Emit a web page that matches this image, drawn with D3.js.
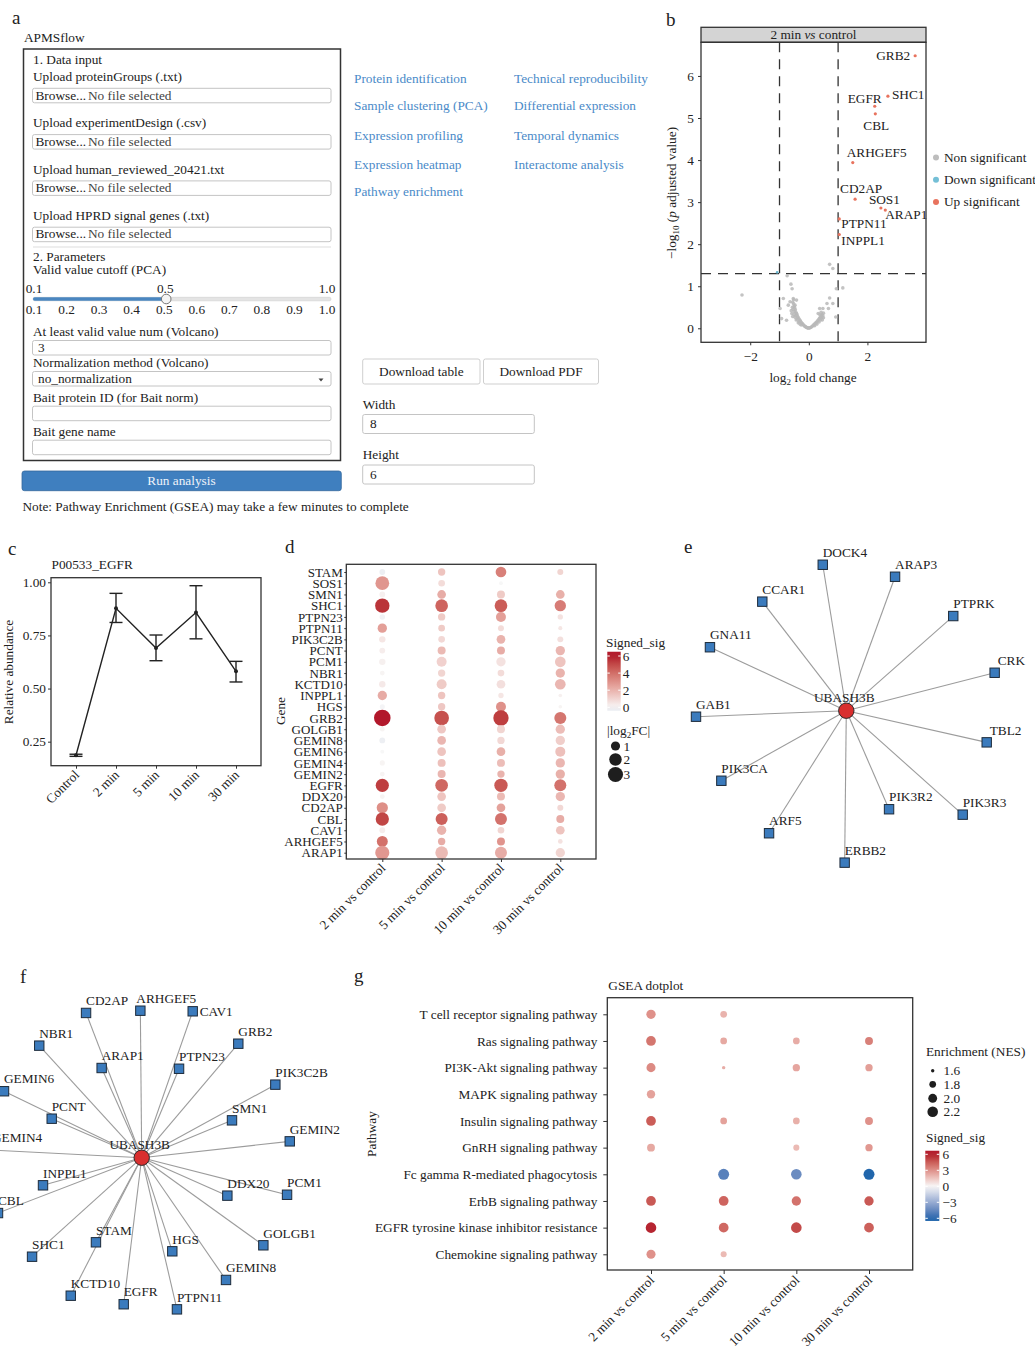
<!DOCTYPE html>
<html>
<head>
<meta charset="utf-8">
<script src="https://cdn.jsdelivr.net/npm/d3@7"></script>
<style>
  body { margin: 0; background: #fff; }
</style>
</head>
<body>
<div id="fig"></div>
<script>
// ---------- panel a : app form ----------
const uploadLabels = [
  "Upload proteinGroups (.txt)",
  "Upload experimentDesign (.csv)",
  "Upload human_reviewed_20421.txt",
  "Upload HPRD signal genes (.txt)"
];
const sliderTicks = [0.1, 0.2, 0.3, 0.4, 0.5, 0.6, 0.7, 0.8, 0.9, 1.0];
const sliderValue = 0.5;
const paramLabels = [
  "At least valid value num (Volcano)",
  "Normalization method (Volcano)",
  "Bait protein ID (for Bait norm)",
  "Bait gene name"
];
const paramValues = ["3", "no_normalization", "", ""];
const navLeft = ["Protein identification", "Sample clustering (PCA)", "Expression profiling", "Expression heatmap", "Pathway enrichment"];
const navRight = ["Technical reproducibility", "Differential expression", "Temporal dynamics", "Interactome analysis"];
const downloadButtons = ["Download table", "Download PDF"];
const sizeLabels = ["Width", "Height"];
const sizeValues = ["8", "6"];

// ---------- panel b : volcano ----------
const sigGenes = ["GRB2", "SHC1", "EGFR", "CBL", "ARHGEF5", "CD2AP", "SOS1", "ARAP1", "PTPN11", "INPPL1"];
const sigFC    = [3.63, 2.70, 2.25, 2.27, 1.50, 1.58, 2.46, 2.61, 1.04, 1.04];
const sigP     = [6.48, 5.52, 5.28, 5.10, 3.94, 3.07, 2.86, 2.81, 2.60, 2.23];
const downPoints = [[-1.08, 1.33]];
const nonSigPoints = [
  [0.71,1.52],[0.82,1.42],[-0.74,1.25],[-0.61,1.05],[-0.57,0.94],[-2.28,0.79],[1.16,0.96],[0.94,0.94],
  [0.71,0.72],[0.62,0.59],[0.82,0.59],[0.67,0.47],[0.92,0.27],[-0.87,0.71],[-0.98,0.47],[-0.93,0.23],
  [-0.76,0.19],[-0.70,0.55],[-0.64,0.63],[-0.53,0.71],[-0.42,0.67],[-0.47,0.55],[0.37,0.47],[0.48,0.47],[0.32,0.35],
  [-0.55,0.62],[-0.52,0.58],[-0.50,0.52],[-0.48,0.48],[-0.46,0.44],[-0.50,0.40],[-0.44,0.38],[-0.42,0.35],
  [-0.40,0.32],[-0.45,0.30],[-0.38,0.28],[-0.36,0.25],[-0.40,0.22],[-0.33,0.22],[-0.30,0.19],[-0.28,0.16],
  [-0.34,0.16],[-0.25,0.13],[-0.22,0.11],[-0.20,0.09],[-0.26,0.08],[-0.17,0.07],[-0.14,0.05],[-0.12,0.04],
  [-0.10,0.03],[-0.07,0.02],[-0.05,0.01],[-0.03,0.01],[0.00,0.00],[-0.56,0.50],[-0.54,0.45],[-0.58,0.35],
  [-0.50,0.33],[-0.47,0.26],[-0.43,0.20],[-0.36,0.13],[-0.30,0.10],[-0.55,0.28],[-0.60,0.42],[-0.52,0.68],
  [0.03,0.01],[0.06,0.02],[0.09,0.03],[0.12,0.05],[0.15,0.07],[0.18,0.09],[0.21,0.11],[0.24,0.13],
  [0.27,0.15],[0.30,0.18],[0.33,0.20],[0.36,0.23],[0.39,0.26],[0.42,0.30],[0.45,0.33],[0.40,0.20],
  [0.44,0.25],[0.48,0.30],[0.50,0.36],[0.35,0.15],[0.28,0.10],[0.20,0.06],[0.46,0.20],[0.50,0.25],
  [0.38,0.32],[0.42,0.38]
];
const volcanoLegend = ["Non significant", "Down significant", "Up significant"];

// ---------- panel c : EGFR profile ----------
const timePoints = ["Control", "2 min", "5 min", "10 min", "30 min"];
const egfrMean = [0.186, 0.878, 0.691, 0.858, 0.581];
const egfrLow  = [0.181, 0.811, 0.631, 0.734, 0.531];
const egfrHigh = [0.191, 0.948, 0.752, 0.984, 0.628];

// ---------- panel d : gene dot plot ----------
const dotGenes = ["STAM","SOS1","SMN1","SHC1","PTPN23","PTPN11","PIK3C2B","PCNT","PCM1","NBR1","KCTD10","INPPL1","HGS",
  "GRB2","GOLGB1","GEMIN8","GEMIN6","GEMIN4","GEMIN2","EGFR","DDX20","CD2AP","CBL","CAV1","ARHGEF5","ARAP1"];
const contrasts = ["2 min vs control", "5 min vs control", "10 min vs control", "30 min vs control"];
const fc2  = [0.30,2.46,0.30,2.70,0.25,1.04,0.40,0.30,0.40,0.15,0.40,1.04,0.20,3.63,0.15,0.30,0.05,0.20,0.15,2.25,0.15,1.58,2.27,0.30,1.50,2.61];
const fc5  = [0.58,0.45,0.88,2.06,0.58,0.45,0.45,0.72,1.22,0.58,1.22,0.58,0.58,2.82,0.88,0.88,0.88,0.72,0.72,2.06,0.88,0.88,1.83,1.04,0.58,2.06];
const fc10 = [1.41,0.04,0.72,2.06,1.22,0.33,0.88,0.72,1.04,0.45,0.88,0.23,1.22,3.10,0.72,0.58,0.88,0.72,0.58,2.30,0.72,0.88,1.83,0.45,0.72,1.83];
const fc30 = [0.33,null,0.88,1.62,0.23,0.06,0.33,1.04,1.41,1.04,1.41,0.02,0.02,1.83,1.04,1.04,1.22,1.04,1.04,1.83,1.04,0.33,0.72,0.88,0.14,1.04];
const sig2  = [-0.3,2.86,0.2,5.52,-0.2,2.60,0.5,0.3,0.2,0.1,0.4,2.23,-0.1,6.48,0.1,-0.3,0.0,0.1,0.1,5.28,0.1,3.07,5.10,0.3,3.94,2.81];
const sig5  = [1.5,0.8,2.2,4.3,1.3,1.3,0.9,1.8,1.1,1.0,1.3,1.5,1.4,4.8,1.4,1.9,1.5,1.6,1.9,4.2,1.5,1.3,4.4,2.0,2.2,1.8];
const sig10 = [3.5,0.0,1.3,4.5,2.6,0.8,2.0,2.2,0.6,0.8,0.7,0.5,3.0,5.3,1.0,0.9,2.1,1.7,2.0,4.6,1.8,2.5,3.9,1.0,2.9,2.2];
const sig30 = [1.0,null,2.1,3.6,0.6,0.5,0.7,1.9,1.5,2.0,1.9,0.2,0.1,3.8,1.7,1.2,1.6,1.9,2.1,3.9,1.9,0.9,2.2,1.5,0.6,1.0];
const dotFC = [fc2, fc5, fc10, fc30];
const dotSig = [sig2, sig5, sig10, sig30];
const fcLegend = [1, 2, 3];
const sigLegendD = [0, 2, 4, 6];

// ---------- panels e / f : interaction networks (layout units, hub at 0,0) ----------
const hubName = "UBASH3B";
const netENodes = ["DOCK4","ARAP3","CCAR1","PTPRK","GNA11","CRK","GAB1","TBL2","PIK3CA","PIK3R2","PIK3R3","ARF5","ERBB2"];
const netEX = [-0.157,0.325,-0.560,0.713,-0.909,0.989,-1.002,0.936,-0.833,0.285,0.776,-0.515,-0.011];
const netEY = [-0.973,-0.893,-0.727,-0.631,-0.423,-0.253,0.040,0.211,0.467,0.657,0.693,0.817,1.013];
const netFNodes = ["CD2AP","ARHGEF5","CAV1","NBR1","GRB2","ARAP1","PTPN23","GEMIN6","PIK3C2B","PCNT","SMN1","GEMIN4","GEMIN2",
  "INPPL1","CBL","DDX20","PCM1","SHC1","STAM","HGS","GOLGB1","GEMIN8","KCTD10","EGFR","PTPN11"];
const netFX = [-0.371,-0.009,0.340,-0.683,0.644,-0.267,0.249,-0.918,0.891,-0.600,0.602,-0.998,0.987,
  -0.658,-0.958,0.571,0.969,-0.731,-0.305,0.204,0.811,0.562,-0.473,-0.120,0.235];
const netFY = [-0.965,-0.980,-0.976,-0.747,-0.760,-0.598,-0.593,-0.443,-0.487,-0.260,-0.249,-0.051,-0.109,
  0.184,0.369,0.253,0.247,0.660,0.564,0.624,0.584,0.815,0.920,0.977,1.011];

// ---------- panel g : GSEA dot plot ----------
const pathways = ["T cell receptor signaling pathway","Ras signaling pathway","PI3K-Akt signaling pathway","MAPK signaling pathway",
  "Insulin signaling pathway","GnRH signaling pathway","Fc gamma R-mediated phagocytosis","ErbB signaling pathway",
  "EGFR tyrosine kinase inhibitor resistance","Chemokine signaling pathway"];
const nes2  = [2.05,2.10,2.02,1.95,2.10,1.90,null,2.10,2.20,2.02];
const nes5  = [1.80,1.80,1.60,null,1.80,null,2.25,2.10,2.10,1.75];
const nes10 = [null,1.80,1.85,null,1.80,1.75,2.20,2.05,2.20,null];
const nes30 = [null,1.90,1.85,null,1.90,1.85,2.25,2.05,2.10,null];
const gsig2  = [3.0,3.8,3.2,2.5,4.5,2.3,null,4.6,5.8,3.0];
const gsig5  = [2.0,2.3,2.2,null,2.5,null,-4.8,4.3,4.2,1.8];
const gsig10 = [null,2.2,2.4,null,2.1,1.8,-4.3,3.9,5.0,null];
const gsig30 = [null,3.5,2.6,null,3.0,2.8,-6.0,4.6,4.4,null];
const gseaNES = [nes2, nes5, nes10, nes30];
const gseaSig = [gsig2, gsig5, gsig10, gsig30];
const nesLegend = [1.6, 1.8, 2.0, 2.2];
const sigLegendG = [6, 3, 0, -3, -6];

// =====================================================================
const W = 1035, H = 1346;
const FONT = '"Liberation Serif", "Times New Roman", serif';
const INK = "#222";
const FS = 13.3;

const svg = d3.select("#fig").append("svg")
  .attr("width", W).attr("height", H)
  .style("font-family", FONT)
  .style("background", "#fff");

function addText(g, { x, y, text, size = FS, fill = INK, anchor = "start", style = "normal", transform = null }) {
  const t = g.append("text")
    .attr("x", x).attr("y", y)
    .attr("font-size", size)
    .attr("fill", fill)
    .attr("text-anchor", anchor)
    .attr("font-style", style)
    .style("font-family", FONT)
    .text(text);
  if (transform) t.attr("transform", transform);
  return t;
}

function styleAxis(sel) {
  sel.attr("font-size", null).attr("font-family", null);
  sel.select(".domain").remove();
  sel.selectAll(".tick line").attr("stroke", "#333").attr("stroke-width", 1);
  sel.selectAll(".tick text").attr("fill", INK).style("font-family", FONT).style("font-size", FS + "px");
}

function frame(g, x0, y0, x1, y1) {
  g.append("rect").attr("x", x0).attr("y", y0).attr("width", x1 - x0).attr("height", y1 - y0)
    .attr("fill", "none").attr("stroke", "#333").attr("stroke-width", 1.3);
}

const sigColor = d3.scaleLinear().domain([-6, 0, 6])
  .range(["#2166ac", "#f7f7f7", "#b2182b"])
  .interpolate(d3.interpolateLab).clamp(true);

// panel letters
[["a", 12, 24], ["b", 666, 26], ["c", 8, 555], ["d", 285, 553], ["e", 684, 553], ["f", 20, 983], ["g", 354, 982]]
  .forEach(([l, x, y]) => addText(svg, { x, y, text: l, size: 19 }));

// ===================== panel a =====================
(function () {
  const g = svg.append("g");
  const boxL = 32.5, boxW = 298.5;

  function inputBox(y, h = 14.5, x = boxL, w = boxW) {
    g.append("rect").attr("x", x).attr("y", y).attr("width", w).attr("height", h)
      .attr("rx", 2).attr("fill", "#fff").attr("stroke", "#c4c4c4").attr("stroke-width", 1);
  }

  addText(g, { x: 24, y: 41.5, text: "APMSflow" });
  g.append("rect").attr("x", 23.5).attr("y", 49).attr("width", 317).attr("height", 411.5)
    .attr("fill", "none").attr("stroke", "#333").attr("stroke-width", 1.5);

  addText(g, { x: 33, y: 63.5, text: "1. Data input" });
  uploadLabels.forEach((lab, i) => {
    const y0 = 81 + i * 46.3;
    addText(g, { x: 33, y: y0, text: lab });
    inputBox(y0 + 7.3);
    addText(g, { x: 35.5, y: y0 + 18.5, text: "Browse..." });
    addText(g, { x: 88, y: y0 + 18.5, text: "No file selected", fill: "#444" });
  });
  g.append("line").attr("x1", 33).attr("x2", 331).attr("y1", 247).attr("y2", 247)
    .attr("stroke", "#ddd").attr("stroke-width", 1);

  addText(g, { x: 33, y: 260.5, text: "2. Parameters" });
  addText(g, { x: 33, y: 274, text: "Valid value cutoff (PCA)" });

  const xs = d3.scaleLinear().domain([0.1, 1.0]).range([34, 327]);
  addText(g, { x: xs(0.1), y: 293, text: "0.1", anchor: "middle" });
  addText(g, { x: xs(sliderValue) + 1, y: 293, text: "0.5", anchor: "middle" });
  addText(g, { x: xs(1.0), y: 293, text: "1.0", anchor: "middle" });
  g.append("rect").attr("x", 33).attr("y", 297.3).attr("width", 298).attr("height", 3.5)
    .attr("rx", 1.7).attr("fill", "#e4e4e4").attr("stroke", "#cfcfcf").attr("stroke-width", 0.6);
  g.append("rect").attr("x", 33).attr("y", 297.3).attr("width", xs(sliderValue) + 2 - 33).attr("height", 3.5)
    .attr("rx", 1.7).attr("fill", "#4a86c0");
  g.append("circle").attr("cx", xs(sliderValue) + 2).attr("cy", 299).attr("r", 4.8)
    .attr("fill", "#f4f4f4").attr("stroke", "#777").attr("stroke-width", 1);
  sliderTicks.forEach(v => addText(g, { x: xs(v), y: 314, text: v.toFixed(1), anchor: "middle" }));

  const paramBase = [336, 367, 401.7, 435.7];
  paramLabels.forEach((lab, i) => {
    const y0 = paramBase[i];
    addText(g, { x: 33, y: y0, text: lab });
    inputBox(y0 + 4.5);
    if (paramValues[i]) addText(g, { x: 38, y: y0 + 15.5, text: paramValues[i] });
  });
  // select arrow
  g.append("path").attr("d", "M318.5,378.5 L323.5,378.5 L321,381.5 Z").attr("fill", "#444");

  // run button
  g.append("rect").attr("x", 22).attr("y", 471).attr("width", 319.3).attr("height", 19.7)
    .attr("rx", 2.5).attr("fill", "#3f7fbf").attr("stroke", "#35689c").attr("stroke-width", 0.8);
  addText(g, { x: 181.5, y: 485, text: "Run analysis", anchor: "middle", fill: "#eef3fa" });
  addText(g, { x: 22.5, y: 511, text: "Note: Pathway Enrichment (GSEA) may take a few minutes to complete" });

  // navigation links
  const rowY = [82.7, 110, 140, 169, 196];
  navLeft.forEach((t, i) => addText(g, { x: 354, y: rowY[i], text: t, fill: "#4a8ac8" }));
  navRight.forEach((t, i) => addText(g, { x: 514, y: rowY[i], text: t, fill: "#4a8ac8" }));

  // download buttons
  const bx = [362.7, 483.5], bw = [117.3, 115];
  downloadButtons.forEach((t, i) => {
    g.append("rect").attr("x", bx[i]).attr("y", 359).attr("width", bw[i]).attr("height", 25)
      .attr("rx", 2).attr("fill", "#fff").attr("stroke", "#cfcfcf").attr("stroke-width", 1);
    addText(g, { x: bx[i] + bw[i] / 2, y: 375.5, text: t, anchor: "middle" });
  });
  sizeLabels.forEach((t, i) => {
    const y0 = 408.5 + i * 50.5;
    addText(g, { x: 362.7, y: y0, text: t });
    inputBox(y0 + 6, 19, 362.7, 171.6);
    addText(g, { x: 370, y: y0 + 19.5, text: sizeValues[i] });
  });
})();

// ===================== panel b : volcano =====================
(function () {
  const g = svg.append("g");
  const x0 = 701, x1 = 926, y0 = 42.3, y1 = 342.3;
  const x = d3.scaleLinear().domain([-3.68, 4.0]).range([x0, x1]);
  const y = d3.scaleLinear().domain([-0.333, 6.80]).range([y1, y0]);

  // strip
  g.append("rect").attr("x", x0).attr("y", 27.3).attr("width", x1 - x0).attr("height", 15)
    .attr("fill", "#d4d4d4").attr("stroke", "#333").attr("stroke-width", 1.3);
  const st = addText(g, { x: (x0 + x1) / 2, y: 39, text: "", anchor: "middle" });
  st.append("tspan").text("2 min ");
  st.append("tspan").attr("font-style", "italic").text("vs");
  st.append("tspan").text(" control");

  // threshold lines
  const dash = "10,7";
  [-1, 1].forEach(v => g.append("line").attr("x1", x(v)).attr("x2", x(v)).attr("y1", y0).attr("y2", y1)
    .attr("stroke", "#333").attr("stroke-width", 1.3).attr("stroke-dasharray", dash));
  g.append("line").attr("x1", x0).attr("x2", x1).attr("y1", y(-Math.log10(0.05))).attr("y2", y(-Math.log10(0.05)))
    .attr("stroke", "#333").attr("stroke-width", 1.3).attr("stroke-dasharray", dash);

  g.selectAll(".ns").data(nonSigPoints).join("circle")
    .attr("cx", d => x(d[0])).attr("cy", d => y(d[1])).attr("r", 1.8)
    .attr("fill", "#b8b8b8").attr("fill-opacity", 0.85);
  g.selectAll(".dn").data(downPoints).join("circle")
    .attr("cx", d => x(d[0])).attr("cy", d => y(d[1])).attr("r", 1.3).attr("fill", "#6bb6cf");
  g.selectAll(".up").data(sigGenes).join("circle")
    .attr("cx", (d, i) => x(sigFC[i])).attr("cy", (d, i) => y(sigP[i])).attr("r", 1.6).attr("fill", "#e8735e");

  // label placement (pixel nudges from each point)
  const nudge = {
    GRB2: [-5, 4, "end"], SHC1: [4, 3, "start"], EGFR: [7, -3.6, "end"], CBL: [-12, 16, "start"],
    ARHGEF5: [-6, -6, "start"], CD2AP: [-15, -6, "start"], SOS1: [-12, -4, "start"], ARAP1: [0, 9, "start"],
    PTPN11: [2, 9, "start"], INPPL1: [2, 10, "start"]
  };
  sigGenes.forEach((n, i) => {
    const [dx, dy, a] = nudge[n];
    addText(g, { x: x(sigFC[i]) + dx, y: y(sigP[i]) + dy, text: n, anchor: a });
  });

  frame(g, x0, y0, x1, y1);

  const ay = g.append("g").attr("transform", `translate(${x0},0)`)
    .call(d3.axisLeft(y).tickValues(d3.range(0, 7)).tickSize(3).tickPadding(4).tickFormat(d3.format("d")));
  styleAxis(ay);
  const ax = g.append("g").attr("transform", `translate(0,${y1})`)
    .call(d3.axisBottom(x).tickValues([-2, 0, 2]).tickSize(3).tickPadding(6).tickFormat(d => d < 0 ? "\u2212" + Math.abs(d) : d));
  styleAxis(ax);

  const xl = addText(g, { x: 813, y: 382, text: "", anchor: "middle" });
  xl.append("tspan").text("log");
  xl.append("tspan").attr("font-size", 9).attr("dy", 3).text("2");
  xl.append("tspan").attr("dy", -3).text(" fold change");

  const yl = addText(g, { x: 0, y: 0, text: "", anchor: "middle", transform: "translate(676,193) rotate(-90)" });
  yl.append("tspan").text("\u2212log");
  yl.append("tspan").attr("font-size", 9).attr("dy", 3).text("10");
  yl.append("tspan").attr("dy", -3).text(" (");
  yl.append("tspan").attr("font-style", "italic").text("p");
  yl.append("tspan").text(" adjusted value)");

  const legCol = ["#bdbdbd", "#74bfd6", "#e8735e"];
  volcanoLegend.forEach((t, i) => {
    const cy = 157.5 + i * 22.2;
    g.append("circle").attr("cx", 936).attr("cy", cy).attr("r", 3).attr("fill", legCol[i]);
    addText(g, { x: 944, y: cy + 4.2, text: t });
  });
})();

// ===================== panel c : line plot =====================
(function () {
  const g = svg.append("g");
  const x0 = 51, x1 = 261, y0 = 577.7, y1 = 765.7;
  const x = d3.scalePoint().domain(timePoints).range([76, 236]);
  const y = d3.scaleLinear().domain([0.137, 1.0217]).range([y1, y0]);

  addText(g, { x: 51.5, y: 569.3, text: "P00533_EGFR" });

  const line = d3.line().x((d, i) => x(timePoints[i])).y(d => y(d));
  g.append("path").attr("d", line(egfrMean)).attr("fill", "none").attr("stroke", INK).attr("stroke-width", 1.4);

  timePoints.forEach((t, i) => {
    const cx = x(t);
    g.append("line").attr("x1", cx).attr("x2", cx).attr("y1", y(egfrLow[i])).attr("y2", y(egfrHigh[i]))
      .attr("stroke", INK).attr("stroke-width", 1.4);
    [egfrLow[i], egfrHigh[i]].forEach(v => g.append("line")
      .attr("x1", cx - 6.5).attr("x2", cx + 6.5).attr("y1", y(v)).attr("y2", y(v))
      .attr("stroke", INK).attr("stroke-width", 1.4));
    g.append("circle").attr("cx", cx).attr("cy", y(egfrMean[i])).attr("r", 2).attr("fill", INK);
  });

  frame(g, x0, y0, x1, y1);
  const ay = g.append("g").attr("transform", `translate(${x0},0)`)
    .call(d3.axisLeft(y).tickValues([0.25, 0.5, 0.75, 1.0]).tickSize(3).tickPadding(2).tickFormat(d3.format(".2f")));
  styleAxis(ay);
  const ax = g.append("g").attr("transform", `translate(0,${y1})`)
    .call(d3.axisBottom(x).tickSize(3).tickFormat(""));
  styleAxis(ax);
  timePoints.forEach(t => addText(g, { x: 0, y: 0, text: t, anchor: "end",
    transform: `translate(${x(t) + 4},${y1 + 10}) rotate(-45)` }));

  addText(g, { x: 0, y: 0, text: "Relative abundance", anchor: "middle", transform: "translate(12.5,672) rotate(-90)" });
})();

// ===================== panel d : dot plot =====================
(function () {
  const g = svg.append("g");
  const x0 = 346.3, x1 = 596, y0 = 564.3, y1 = 859;
  const x = d3.scalePoint().domain(contrasts).range([382.3, 560.3]);
  const y = d3.scalePoint().domain(dotGenes).range([572, 852.7]);
  const area = d3.scaleLinear().domain([0, 3.7]).range([3, 69.6]);
  const r = v => Math.sqrt(area(v));

  contrasts.forEach((c, j) => {
    dotGenes.forEach((gene, i) => {
      const v = dotFC[j][i];
      if (v === null) return;
      g.append("circle").attr("cx", x(c)).attr("cy", y(gene)).attr("r", r(v))
        .attr("fill", sigColor(dotSig[j][i]));
    });
  });

  frame(g, x0, y0, x1, y1);
  const ay = g.append("g").attr("transform", `translate(${x0},0)`)
    .call(d3.axisLeft(y).tickSize(2).tickPadding(1.5));
  styleAxis(ay);
  ay.selectAll(".tick text").style("font-size", "13px");
  const ax = g.append("g").attr("transform", `translate(0,${y1})`)
    .call(d3.axisBottom(x).tickSize(3).tickFormat(""));
  styleAxis(ax);
  contrasts.forEach(c => addText(g, { x: 0, y: 0, text: c, anchor: "end",
    transform: `translate(${x(c) + 4},${y1 + 10}) rotate(-45)` }));
  addText(g, { x: 0, y: 0, text: "Gene", anchor: "middle", transform: "translate(285,711) rotate(-90)" });

  // legends
  addText(g, { x: 606, y: 646.7, text: "Signed_sig" });
  const ly = d3.scaleLinear().domain([0, 6]).range([707.3, 656]);
  const grad = svg.append("defs").append("linearGradient").attr("id", "gradD")
    .attr("x1", 0).attr("y1", 1).attr("x2", 0).attr("y2", 0);
  const lo = -0.4, hi = 6.5;
  d3.range(0, 11).forEach(k => {
    const v = lo + (hi - lo) * k / 10;
    grad.append("stop").attr("offset", k / 10).attr("stop-color", sigColor(v));
  });
  g.append("rect").attr("x", 607.3).attr("y", ly(hi)).attr("width", 13.4).attr("height", ly(lo) - ly(hi))
    .attr("fill", "url(#gradD)");
  sigLegendD.forEach(v => {
    [[607.3, 609.8], [618.2, 620.7]].forEach(([a, b]) => g.append("line")
      .attr("x1", a).attr("x2", b).attr("y1", ly(v)).attr("y2", ly(v)).attr("stroke", "#fff").attr("stroke-width", 1));
    addText(g, { x: 622.7, y: ly(v) + 4.5, text: String(v) });
  });

  const fl = addText(g, { x: 607, y: 735, text: "" });
  fl.append("tspan").text("|log");
  fl.append("tspan").attr("font-size", 9).attr("dy", 3).text("2");
  fl.append("tspan").attr("dy", -3).text("FC|");
  const cyL = [746, 759.5, 774.5];
  fcLegend.forEach((v, i) => {
    g.append("circle").attr("cx", 615.5).attr("cy", cyL[i]).attr("r", r(v)).attr("fill", "#1e1e1e");
    addText(g, { x: 623.5, y: cyL[i] + 4.5, text: String(v) });
  });
})();

// ===================== panels e, f : networks =====================
function drawNetwork(cx, cy, R, names, lx, ly, special) {
  const g = svg.append("g");
  const x = d3.scaleLinear().domain([-1, 1]).range([cx - R, cx + R]);
  const y = d3.scaleLinear().domain([-1, 1]).range([cy - R, cy + R]);
  names.forEach((n, i) => g.append("line")
    .attr("x1", x(0)).attr("y1", y(0)).attr("x2", x(lx[i])).attr("y2", y(ly[i]))
    .attr("stroke", "#9c9c9c").attr("stroke-width", 1.1));
  names.forEach((n, i) => {
    g.append("rect").attr("x", x(lx[i]) - 4.7).attr("y", y(ly[i]) - 4.7).attr("width", 9.4).attr("height", 9.4)
      .attr("fill", "#3b7bbd").attr("stroke", "#1d2b3a").attr("stroke-width", 1);
  });
  names.forEach((n, i) => {
    const [dx, dy] = special[n] || [0, -7.8];
    addText(g, { x: x(lx[i]) + dx, y: y(ly[i]) + dy, text: n });
  });
  g.append("circle").attr("cx", x(0)).attr("cy", y(0)).attr("r", 7.7)
    .attr("fill", "#d92f2f").attr("stroke", "#2a2a2a").attr("stroke-width", 1);
  addText(g, { x: x(0) - 2, y: y(0) - 8.5, text: hubName, anchor: "middle" });
}
drawNetwork(846.3, 710.7, 150, netENodes, netEX, netEY, { CRK: [3, -7.8], TBL2: [3, -7.8] });
drawNetwork(141.7, 1157.7, 150, netFNodes, netFX, netFY, { CAV1: [7, 4.5], ARHGEF5: [-4, -8] });

// ===================== panel g : GSEA dot plot =====================
(function () {
  const g = svg.append("g");
  const x0 = 607.3, x1 = 912.7, y0 = 997.7, y1 = 1270;
  const x = d3.scalePoint().domain(contrasts).range([651, 869]);
  const y = d3.scalePoint().domain(pathways).range([1014.3, 1254.3]);
  const area = d3.scaleLinear().domain([1.6, 2.2]).range([2.9, 28]);
  const r = v => Math.sqrt(Math.max(1, area(v)));

  addText(g, { x: 608.3, y: 990, text: "GSEA dotplot" });

  contrasts.forEach((c, j) => {
    pathways.forEach((p, i) => {
      const v = gseaNES[j][i];
      if (v === null) return;
      g.append("circle").attr("cx", x(c)).attr("cy", y(p)).attr("r", r(v)).attr("fill", sigColor(gseaSig[j][i]));
    });
  });

  frame(g, x0, y0, x1, y1);
  const ay = g.append("g").attr("transform", `translate(${x0},0)`)
    .call(d3.axisLeft(y).tickSize(4).tickPadding(6));
  styleAxis(ay);
  const ax = g.append("g").attr("transform", `translate(0,${y1})`)
    .call(d3.axisBottom(x).tickSize(4).tickFormat(""));
  styleAxis(ax);
  contrasts.forEach(c => addText(g, { x: 0, y: 0, text: c, anchor: "end",
    transform: `translate(${x(c) + 4},${y1 + 11}) rotate(-45)` }));
  addText(g, { x: 0, y: 0, text: "Pathway", anchor: "middle", transform: "translate(376,1134) rotate(-90)" });

  // size legend
  addText(g, { x: 926, y: 1055.7, text: "Enrichment (NES)" });
  const cyN = [1070.7, 1084.3, 1098.3, 1111.7];
  nesLegend.forEach((v, i) => {
    g.append("circle").attr("cx", 932.7).attr("cy", cyN[i]).attr("r", r(v)).attr("fill", "#1e1e1e");
    addText(g, { x: 943.5, y: cyN[i] + 4.5, text: v.toFixed(1) });
  });

  // colour legend
  addText(g, { x: 926, y: 1141.7, text: "Signed_sig" });
  const ly = d3.scaleLinear().domain([-6, 6]).range([1218.3, 1154.3]);
  const lo = -6.5, hi = 6.67;
  const grad = svg.select("defs").append("linearGradient").attr("id", "gradG")
    .attr("x1", 0).attr("y1", 1).attr("x2", 0).attr("y2", 0);
  d3.range(0, 13).forEach(k => {
    const v = lo + (hi - lo) * k / 12;
    grad.append("stop").attr("offset", k / 12).attr("stop-color", sigColor(v));
  });
  g.append("rect").attr("x", 925.3).attr("y", ly(hi)).attr("width", 14).attr("height", ly(lo) - ly(hi))
    .attr("fill", "url(#gradG)");
  sigLegendG.forEach(v => {
    [[925.3, 927.8], [936.8, 939.3]].forEach(([a, b]) => g.append("line")
      .attr("x1", a).attr("x2", b).attr("y1", ly(v)).attr("y2", ly(v)).attr("stroke", "#fff").attr("stroke-width", 1));
    addText(g, { x: 942.5, y: ly(v) + 4.5, text: v < 0 ? "\u2212" + Math.abs(v) : String(v) });
  });
})();
</script>
</body>
</html>
